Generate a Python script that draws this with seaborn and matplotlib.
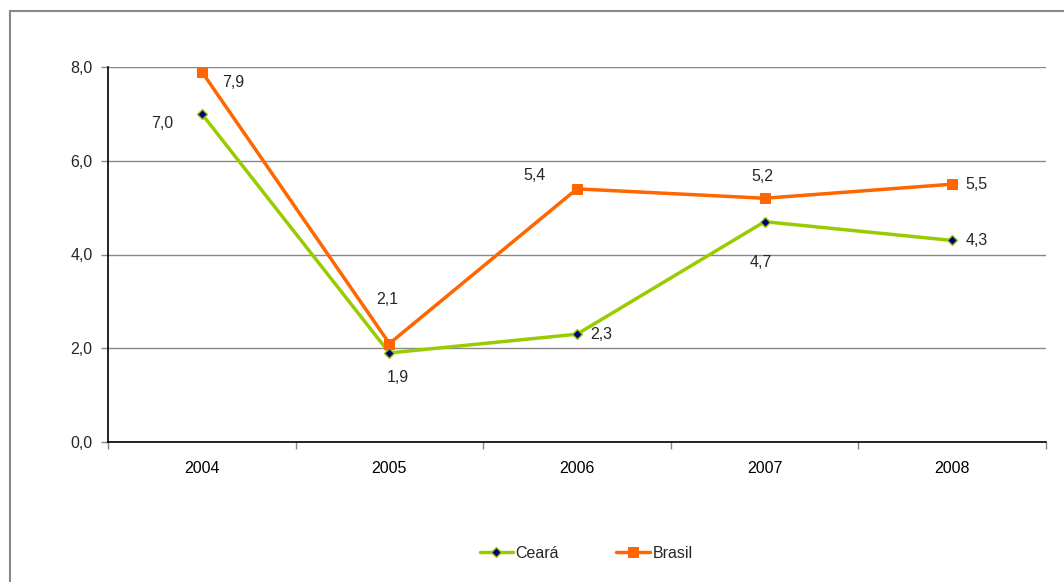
import matplotlib
matplotlib.use("Agg")
import matplotlib.pyplot as plt
import matplotlib.patches as mpatches
import seaborn as sns
import pandas as pd

years = ["2004", "2005", "2006", "2007", "2008"]
ceara = [7.0, 1.9, 2.3, 4.7, 4.3]
brasil = [7.9, 2.1, 5.4, 5.2, 5.5]
y_ticks = [0, 2, 4, 6, 8]

sns.set_theme(style="white")
plt.rcParams["font.family"] = ["Liberation Sans", "DejaVu Sans"]

fig = plt.figure(figsize=(10.64, 5.82), dpi=100)
ax = fig.add_axes([108/1064, 1-442/582, (1046-108)/1064, (442-67)/582])

xpos = list(range(len(years)))
df_c = pd.DataFrame({"x": xpos, "y": ceara})
df_b = pd.DataFrame({"x": xpos, "y": brasil})

sns.lineplot(data=df_c, x="x", y="y", ax=ax, color="#99CC00", linewidth=2.5,
             marker="D", markersize=5, markerfacecolor="#000080",
             markeredgecolor="#99CC00", markeredgewidth=1, label="Ceará", zorder=3)
sns.lineplot(data=df_b, x="x", y="y", ax=ax, color="#FF6600", linewidth=2.5,
             marker="s", markersize=7, markerfacecolor="#FF6600",
             markeredgecolor="#FF6600", label="Brasil", zorder=4)

ax.set_xlim(-0.5, len(years) - 0.5)
ax.set_ylim(0, 8)
ax.set_yticks(y_ticks)
ax.set_yticklabels([f"{v:.1f}".replace(".", ",") for v in y_ticks], fontsize=11.5)
ax.set_xticks(xpos)
ax.set_xticklabels(years, fontsize=11.5)
ax.set_xticks([i - 0.5 for i in range(len(years) + 1)], minor=True)
ax.tick_params(axis="x", which="major", length=0, pad=14, colors="black")
ax.tick_params(axis="x", which="minor", length=5, color="#888888", width=1, direction="out", bottom=True)
ax.tick_params(axis="y", which="major", length=5, color="#888888", width=1, direction="out", left=True, pad=6)
ax.set_xlabel("")
ax.set_ylabel("")
ax.grid(axis="y", color="#888888", linewidth=1)
ax.set_axisbelow(True)
for s in ["top", "right"]:
    ax.spines[s].set_visible(False)
for s in ["left", "bottom"]:
    ax.spines[s].set_color("black")
    ax.spines[s].set_linewidth(1.2)
    ax.spines[s].set_zorder(2)

c_off = [(-40, -10), (8, -25), (24, 0), (-4, -41), (25, 0)]
b_off = [(31, -11), (-2, 44), (-43, 13), (-2, 22), (24, 0)]
for i, v in enumerate(ceara):
    ax.annotate(f"{v:.1f}".replace(".", ","), (xpos[i], v), xytext=c_off[i],
                textcoords="offset pixels", ha="center", va="center", fontsize=11.5)
for i, v in enumerate(brasil):
    ax.annotate(f"{v:.1f}".replace(".", ","), (xpos[i], v), xytext=b_off[i],
                textcoords="offset pixels", ha="center", va="center", fontsize=11.5)

ax.legend_.remove()
h, l = ax.get_legend_handles_labels()
fig.legend(h, l, loc="center", bbox_to_anchor=(586/1064, 1-553/582), ncol=2,
           frameon=False, fontsize=11.5, handlelength=2.1, columnspacing=3.6, handletextpad=0.15)

frame = mpatches.Rectangle((10/1064, -0.1), 1.2, (1 - 11/582) + 0.1, transform=fig.transFigure,
                           fill=False, edgecolor="#888888", linewidth=1.5)
fig.patches.append(frame)

fig.savefig("out.png", dpi=100)
